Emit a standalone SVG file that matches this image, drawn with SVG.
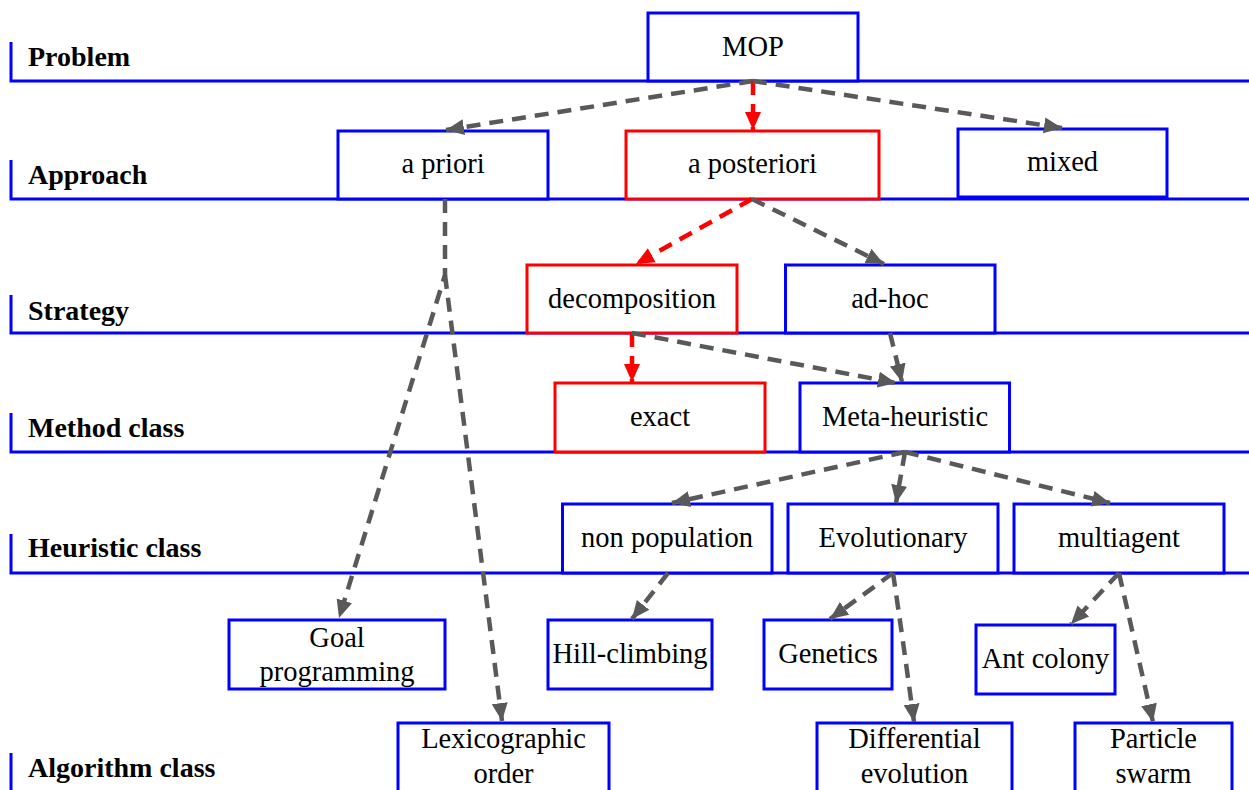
<svg xmlns="http://www.w3.org/2000/svg" width="1249" height="790" viewBox="0 0 1249 790">
<style>
.lvl{stroke:#0000FF;stroke-width:3;fill:none}
.lbl{font-family:"Liberation Serif","Times New Roman",serif;font-weight:bold;font-size:28px;fill:#000}
.box{fill:#fff;stroke:#0000FF;stroke-width:3}
.red{fill:#fff;stroke:#FF0000;stroke-width:3}
.t{font-family:"Liberation Serif","Times New Roman",serif;font-size:28.5px;fill:#000;text-anchor:middle}
.g{stroke:#595959;stroke-width:4.5;stroke-dasharray:14 9;fill:none;marker-end:url(#ag)}
.r{stroke:#FF0000;stroke-width:4.5;stroke-dasharray:14 9;fill:none;marker-end:url(#ar)}
</style>
<defs>
<marker id="ag" markerUnits="userSpaceOnUse" markerWidth="20" markerHeight="20" viewBox="0 0 20 20" refX="18" refY="10" orient="auto">
<path d="M0,2 L18,10 L0,18 z" fill="#595959"/>
</marker>
<marker id="ar" markerUnits="userSpaceOnUse" markerWidth="20" markerHeight="20" viewBox="0 0 20 20" refX="18" refY="10" orient="auto">
<path d="M0,2 L18,10 L0,18 z" fill="#FF0000"/>
</marker>
</defs>
<rect width="1249" height="790" fill="#fff"/>
<g id="levels">
<path class="lvl" d="M11,42 V81 H1249"/>
<path class="lvl" d="M11,160 V199 H1249"/>
<path class="lvl" d="M11,295 V333 H1249"/>
<path class="lvl" d="M11,413 V452 H1249"/>
<path class="lvl" d="M11,534 V573 H1249"/>
<path class="lvl" d="M11,753 V792"/>
<text class="lbl" x="28" y="66">Problem</text>
<text class="lbl" x="28" y="184">Approach</text>
<text class="lbl" x="28" y="320">Strategy</text>
<text class="lbl" x="28" y="437">Method class</text>
<text class="lbl" x="28" y="557">Heuristic class</text>
<text class="lbl" x="28" y="777">Algorithm class</text>
</g>
<g id="mop"><rect class="box" x="648" y="13" width="210" height="68"/><text class="t" x="753" y="56">MOP</text></g>
<g id="apriori"><rect class="box" x="338" y="131" width="210" height="68"/><text class="t" x="443" y="173">a priori</text></g>
<g id="aposteriori"><rect class="red" x="626" y="131" width="253" height="68"/><text class="t" x="752.5" y="173">a posteriori</text></g>
<g id="mixed"><rect class="box" x="958" y="129" width="209" height="68"/><text class="t" x="1062.5" y="171">mixed</text></g>
<g id="decomposition"><rect class="red" x="527" y="265" width="210" height="68"/><text class="t" x="632" y="308">decomposition</text></g>
<g id="adhoc"><rect class="box" x="785.5" y="265" width="209.5" height="68"/><text class="t" x="890" y="308">ad-hoc</text></g>
<g id="exact"><rect class="red" x="555" y="383" width="210" height="69"/><text class="t" x="660" y="426">exact</text></g>
<g id="metaheuristic"><rect class="box" x="800" y="383" width="209.5" height="69"/><text class="t" x="905" y="426">Meta-heuristic</text></g>
<g id="nonpopulation"><rect class="box" x="562.5" y="504" width="209.5" height="69"/><text class="t" x="667" y="547">non population</text></g>
<g id="evolutionary"><rect class="box" x="788" y="504" width="210" height="69"/><text class="t" x="893" y="547">Evolutionary</text></g>
<g id="multiagent"><rect class="box" x="1014" y="504" width="210" height="69"/><text class="t" x="1119" y="547">multiagent</text></g>
<g id="goal"><rect class="box" x="229" y="620" width="216" height="69"/><text class="t" x="337" y="647">Goal</text><text class="t" x="337" y="681">programming</text></g>
<g id="hillclimbing"><rect class="box" x="548" y="620" width="164" height="69"/><text class="t" x="630" y="663">Hill-climbing</text></g>
<g id="genetics"><rect class="box" x="764" y="620" width="128" height="69"/><text class="t" x="828" y="663">Genetics</text></g>
<g id="antcolony"><rect class="box" x="976" y="625" width="139" height="69"/><text class="t" x="1045.5" y="668">Ant colony</text></g>
<g id="lexicographic"><rect class="box" x="398" y="723" width="211" height="80"/><text class="t" x="503.5" y="748">Lexicographic</text><text class="t" x="503.5" y="783">order</text></g>
<g id="differential"><rect class="box" x="817" y="723" width="195" height="80"/><text class="t" x="914.5" y="748">Differential</text><text class="t" x="914.5" y="783">evolution</text></g>
<g id="particle"><rect class="box" x="1075" y="723" width="157" height="80"/><text class="t" x="1153.5" y="748">Particle</text><text class="t" x="1153.5" y="783">swarm</text></g>
<g id="connectors">
<path class="g" d="M753,81 L446,130"/>
<path class="r" d="M753,81 L753,130"/>
<path class="g" d="M753,81 L1062,128"/>
<path class="g" d="M445,199 L445,275 L339,618"/>
<path class="g" d="M445,275 L502,721"/>
<path class="r" d="M752,199 L636,264"/>
<path class="g" d="M752,199 L884,264"/>
<path class="r" d="M632,333 L632,382"/>
<path class="g" d="M632,333 L896,383"/>
<path class="g" d="M890,333 L902,382"/>
<path class="g" d="M905,452 L672,503"/>
<path class="g" d="M905,452 L896,503"/>
<path class="g" d="M905,452 L1110,503"/>
<path class="g" d="M668,573 L632,619"/>
<path class="g" d="M893,573 L830,619"/>
<path class="g" d="M893,573 Q903,640 914,722"/>
<path class="g" d="M1119,573 L1071,624"/>
<path class="g" d="M1119,573 L1153,722"/>
</g>
</svg>
